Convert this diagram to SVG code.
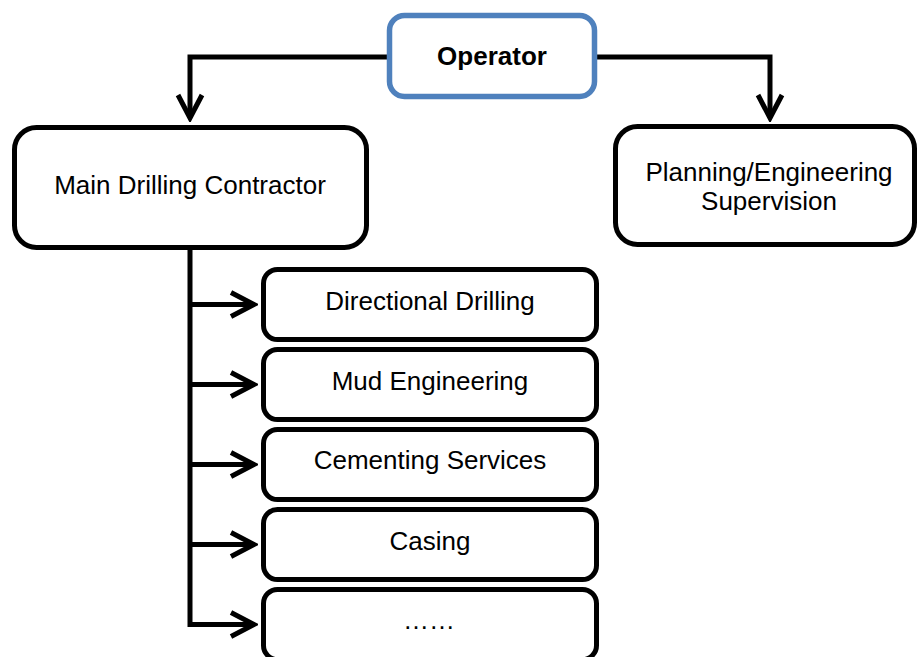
<svg xmlns="http://www.w3.org/2000/svg" width="918" height="657" viewBox="0 0 918 657">
  <style>
    .box { fill: #ffffff; stroke: #000000; stroke-width: 5; }
    .top { fill: #ffffff; stroke: #4F81BD; stroke-width: 5.5; }
    .lbl { font-family: "Liberation Sans", Arial, sans-serif; font-size: 26px; fill: #000000; text-anchor: middle; }
    .bold { font-weight: bold; }
    .wire { fill: none; stroke: #000000; stroke-width: 5; stroke-linejoin: miter; }
  </style>
  <defs>
    <marker id="chev" markerUnits="userSpaceOnUse" viewBox="-28 -16 32 32" refX="0" refY="0" markerWidth="32" markerHeight="32" orient="auto">
      <path d="M-23,-12 L0,0 L-23,12" fill="none" stroke="#000000" stroke-width="5" stroke-linejoin="miter" stroke-miterlimit="10"/>
    </marker>
  </defs>
  <rect width="918" height="657" fill="#ffffff"/>

  <!-- connectors -->
  <g id="connectors">
    <path class="wire" d="M389 57 H190 V118" marker-end="url(#chev)"/>
    <path class="wire" d="M595 57 H770 V118" marker-end="url(#chev)"/>
    <path class="wire" d="M190 248 V624.5 H254" marker-end="url(#chev)"/>
    <path class="wire" d="M190 304.5 H254" marker-end="url(#chev)"/>
    <path class="wire" d="M190 384.5 H254" marker-end="url(#chev)"/>
    <path class="wire" d="M190 464.5 H254" marker-end="url(#chev)"/>
    <path class="wire" d="M190 544.5 H254" marker-end="url(#chev)"/>
  </g>

  <g id="operator">
    <rect class="top" x="389.5" y="15.5" width="205" height="81" rx="15"/>
    <text class="lbl bold" x="492" y="65">Operator</text>
  </g>

  <g id="main-contractor">
    <rect class="box" x="14.5" y="127.5" width="352" height="120" rx="22"/>
    <text class="lbl" x="190" y="194">Main Drilling Contractor</text>
  </g>

  <g id="planning">
    <rect class="box" x="615.5" y="126.5" width="299" height="118" rx="22"/>
    <text class="lbl" x="769" y="180.5">Planning/Engineering</text>
    <text class="lbl" x="769" y="209.5">Supervision</text>
  </g>

  <g id="directional-drilling">
    <rect class="box" x="263.5" y="269.5" width="333" height="70" rx="14"/>
    <text class="lbl" x="430" y="310">Directional Drilling</text>
  </g>

  <g id="mud-engineering">
    <rect class="box" x="263.5" y="349.5" width="333" height="70" rx="14"/>
    <text class="lbl" x="430" y="390">Mud Engineering</text>
  </g>

  <g id="cementing-services">
    <rect class="box" x="263.5" y="429.5" width="333" height="70" rx="14"/>
    <text class="lbl" x="430" y="469">Cementing Services</text>
  </g>

  <g id="casing">
    <rect class="box" x="263.5" y="509.5" width="333" height="70" rx="14"/>
    <text class="lbl" x="430" y="550">Casing</text>
  </g>

  <g id="more">
    <rect class="box" x="263.5" y="589.5" width="333" height="70" rx="14"/>
    <text class="lbl" x="429" y="629">……</text>
  </g>
</svg>
